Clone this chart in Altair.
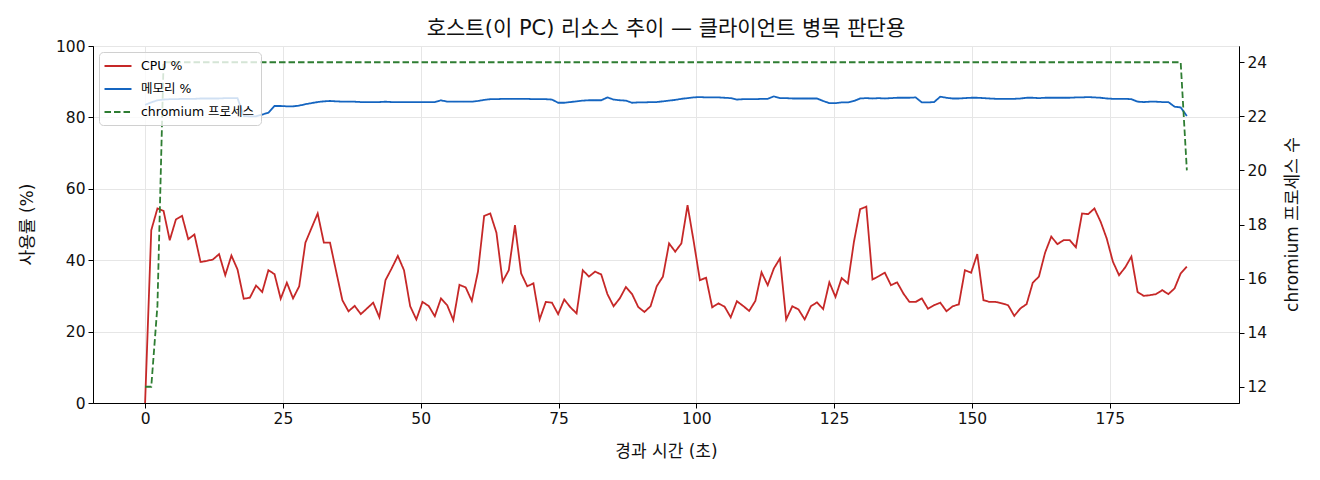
import pandas as pd
import altair as alt

# samples, one every ~1.12 s
SAMPLE_SEC = 1.1183

cpu = [
    0.0, 48.4, 54.5, 53.8, 45.6, 51.4, 52.4, 45.9, 47.2, 39.5,
    39.8, 40.2, 41.7, 35.8, 41.3, 37.4, 29.2, 29.5, 32.9, 31.1,
    37.2, 36.1, 29.2, 33.7, 29.3, 32.7, 44.9, 49.0, 53.1, 44.9,
    44.9, 36.8, 28.8, 25.7, 27.2, 24.9, 26.5, 28.1, 24.0, 34.4,
    37.7, 41.2, 37.2, 27.1, 23.4, 28.3, 27.2, 24.3, 29.3, 27.4,
    23.2, 33.1, 32.4, 28.6, 36.8, 52.4, 53.1, 47.7, 34.0, 37.2,
    49.8, 36.3, 32.7, 33.5, 23.4, 28.3, 28.1, 24.9, 29.0, 26.8,
    25.1, 37.2, 35.4, 36.8, 36.0, 30.5, 27.1, 29.3, 32.5, 30.5,
    26.9, 25.5, 27.1, 32.7, 35.4, 44.7, 42.4, 44.7, 55.4, 45.2,
    34.4, 35.1, 26.8, 27.9, 27.0, 24.0, 28.5, 27.2, 25.8, 28.6,
    36.6, 33.0, 37.7, 40.5, 23.4, 27.1, 26.2, 23.4, 27.1, 28.2,
    26.3, 33.8, 29.7, 35.0, 33.5, 45.2, 54.3, 55.0, 34.6, 35.5,
    36.5, 33.0, 33.8, 30.7, 28.3, 28.3, 29.3, 26.4, 27.4, 28.1,
    25.7, 27.1, 27.6, 37.2, 36.5, 41.7, 28.8, 28.3, 28.3, 27.9,
    27.4, 24.4, 26.5, 27.7, 33.7, 35.4, 42.1, 46.6, 44.5, 45.6,
    45.6, 43.6, 53.1, 52.9, 54.5, 50.8, 46.1, 39.6, 35.8, 38.0,
    41.0, 31.1, 30.0, 30.2, 30.5, 31.6, 30.5, 32.1, 36.3, 38.2,
]

memory = [
    83.5, 84.2, 84.8, 85.0, 85.1, 85.1, 85.2, 85.2, 85.2, 85.3,
    85.3, 85.3, 85.3, 85.4, 85.4, 85.4, 80.4, 80.3, 80.3, 80.8,
    81.3, 83.2, 83.2, 83.1, 83.1, 83.3, 83.7, 84.0, 84.3, 84.5,
    84.6, 84.5, 84.4, 84.4, 84.4, 84.3, 84.3, 84.3, 84.3, 84.4,
    84.3, 84.3, 84.3, 84.3, 84.3, 84.3, 84.3, 84.3, 84.8, 84.4,
    84.4, 84.4, 84.4, 84.4, 84.6, 84.9, 85.1, 85.1, 85.2, 85.2,
    85.2, 85.2, 85.2, 85.1, 85.1, 85.1, 85.0, 84.1, 84.1, 84.3,
    84.5, 84.7, 84.8, 84.8, 84.8, 85.6, 85.0, 84.8, 84.7, 84.1,
    84.2, 84.2, 84.3, 84.3, 84.5, 84.7, 84.9, 85.2, 85.4, 85.6,
    85.7, 85.6, 85.6, 85.6, 85.5, 85.4, 85.0, 85.1, 85.1, 85.1,
    85.2, 85.2, 85.9, 85.4, 85.4, 85.3, 85.3, 85.3, 85.3, 85.3,
    84.6, 84.0, 84.0, 84.2, 84.2, 84.6, 85.3, 85.4, 85.3, 85.4,
    85.3, 85.4, 85.5, 85.5, 85.5, 85.6, 84.2, 84.2, 84.3, 85.8,
    85.5, 85.3, 85.3, 85.4, 85.5, 85.5, 85.4, 85.3, 85.2, 85.2,
    85.2, 85.2, 85.3, 85.5, 85.5, 85.4, 85.5, 85.5, 85.5, 85.5,
    85.5, 85.6, 85.6, 85.7, 85.6, 85.5, 85.3, 85.2, 85.2, 85.2,
    85.1, 84.4, 84.3, 84.4, 84.4, 84.3, 84.3, 83.0, 82.8, 80.4,
]

# chromium process count: 12 at start, 24 for the whole run, 20 at the end
procs = [12, 12, 15] + [24] * 166 + [20]

series_names = ["CPU %", "메모리 %", "chromium 프로세스"]
series_colors = ["#c62828", "#1565c0", "#2e7d32"]

elapsed = [round(i * SAMPLE_SEC, 2) for i in range(len(cpu))]

usage = pd.concat([
    pd.DataFrame({"t": elapsed, "value": cpu, "series": "CPU %"}),
    pd.DataFrame({"t": elapsed, "value": memory, "series": "메모리 %"}),
])
proc_df = pd.DataFrame({"t": elapsed, "procs": procs, "series": "chromium 프로세스"})

FONT = "DejaVu Sans, Noto Sans CJK KR"

x_enc = alt.X(
    "t:Q",
    scale=alt.Scale(domain=[-9.45, 198.45], nice=False, zero=False),
    axis=alt.Axis(values=[0, 25, 50, 75, 100, 125, 150, 175], title="경과 시간 (초)",
                  grid=True, titlePadding=17),
)

color_enc = alt.Color(
    "series:N",
    scale=alt.Scale(domain=series_names, range=series_colors),
    legend=alt.Legend(
        title=None, orient="top-left", offset=6,
        symbolType="M-2,0H2", symbolSize=182, symbolStrokeWidth=1.8, symbolOffset=5,
        labelFontSize=12.5, labelFont=FONT, labelOffset=15, rowPadding=8,
        fillColor="rgba(255,255,255,0.8)", strokeColor="#d0d0d0",
        cornerRadius=4, padding=6,
    ),
)
dash_enc = alt.StrokeDash(
    "series:N",
    scale=alt.Scale(domain=series_names, range=[[1, 0], [1, 0], [6.5, 3]]),
    legend=None,
)

usage_lines = alt.Chart(usage).mark_line(strokeWidth=1.8).encode(
    x=x_enc,
    y=alt.Y("value:Q", scale=alt.Scale(domain=[0, 100], nice=False),
            axis=alt.Axis(values=[0, 20, 40, 60, 80, 100], title="사용률 (%)",
                          titleX=-66, titleY=178, titleAlign="center",
                          titleBaseline="middle", titleAngle=270)),
    color=color_enc,
    strokeDash=dash_enc,
    order="t:Q",
)

proc_line = alt.Chart(proc_df).mark_line(strokeWidth=1.8).encode(
    x=x_enc,
    y=alt.Y("procs:Q", scale=alt.Scale(domain=[11.4, 24.6], nice=False, zero=False),
            axis=alt.Axis(values=[12, 14, 16, 18, 20, 22, 24], orient="right", grid=False,
                          title="chromium 프로세스 수", titleAngle=270,
                          titleX=53, titleY=178, titleAlign="center",
                          titleBaseline="middle")),
    color=color_enc,
    strokeDash=dash_enc,
)

chart = alt.layer(usage_lines, proc_line).resolve_scale(
    y="independent"
).properties(
    width=1146,
    height=357,
    title=alt.TitleParams("호스트(이 PC) 리소스 추이 — 클라이언트 병목 판단용", offset=4, dy=4),
    autosize=alt.AutoSizeParams(type="none"),
    padding={"left": 85, "top": 38, "right": 73, "bottom": 69},
).configure_view(
    stroke="black", strokeWidth=1
).configure_axis(
    labelFont=FONT, titleFont=FONT, labelFontSize=15.5, titleFontSize=17,
    labelColor="#111", titleColor="#111", titleFontWeight="normal",
    tickColor="black", domainColor="black", tickSize=5, labelPadding=3,
    gridColor="#e6e6e6", gridWidth=1,
).configure_title(
    font=FONT, fontSize=21, fontWeight="normal", color="#111", anchor="middle"
)

chart.save("out.html", embed_options={"renderer": "svg", "actions": False})
